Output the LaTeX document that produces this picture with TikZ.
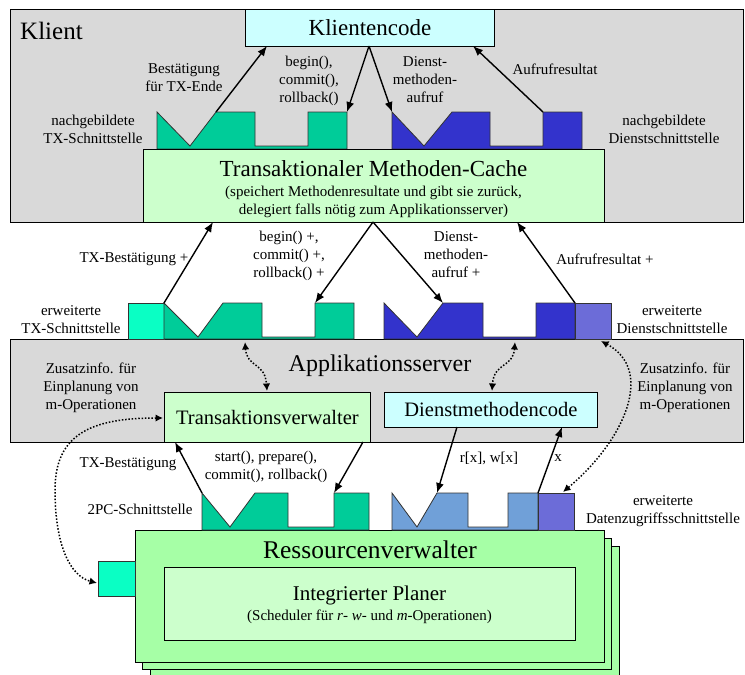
\documentclass[tikz,border=0pt]{standalone}
\usepackage{fontspec}
\setmainfont{Liberation Serif}
\usetikzlibrary{arrows.meta}
\definecolor{panelgray}{RGB}{217,217,217}
\definecolor{codecyan}{RGB}{204,255,255}
\definecolor{palegreen}{RGB}{204,255,204}
\definecolor{rmgreen}{RGB}{166,255,166}
\definecolor{txgreen}{RGB}{0,204,153}
\definecolor{txcyan}{RGB}{10,255,196}
\definecolor{svblue}{RGB}{51,51,204}
\definecolor{svpurple}{RGB}{108,108,216}
\definecolor{datablue}{RGB}{112,160,216}
\begin{document}
\begin{tikzpicture}[x=1pt,y=-1pt,
  box/.style={draw=black,line width=0.9pt,inner sep=0pt,anchor=north west},
  ifline/.style={draw=black!80,line width=0.8pt,line join=miter},
  lbl/.style={font=\fontsize{15}{18}\selectfont,align=center,inner sep=0pt},
  arr/.style={line width=1.4pt,-{Latex[length=10pt,width=8pt]}},
  dotarr/.style={line width=1.5pt,dash pattern=on 1.5pt off 1.8pt,
    {Latex[length=7.5pt,width=7.5pt]}-{Latex[length=7.5pt,width=7.5pt]}}]
\useasboundingbox (0,0) rectangle (745,675);

% ---------- frames ----------
\node[box,fill=panelgray,minimum width=733pt,minimum height=213pt] (klient) at (10,9) {};
\node[box,fill=panelgray,minimum width=733pt,minimum height=103pt] (appserver) at (10,339) {};
\node[font=\fontsize{25}{30}\selectfont,anchor=base west,inner sep=0pt] (klienttitle) at (20,39) {Klient};

% ---------- client side ----------
\node[box,fill=codecyan,minimum width=249pt,minimum height=37pt,
  font=\fontsize{23}{27}\selectfont] (clientcode) at (245,9) {Klientencode};

% emulated TX interface
\draw[ifline,fill=txgreen] (157,149) -- (157,112) -- (190,146) -- (216,112) coordinate (etxA)
  -- (255,112) -- (255,146) -- (308,146) -- (308,112) -- (347,112) coordinate (etxB) -- (347,149) -- cycle;
% emulated service interface
\draw[ifline,fill=svblue] (392,149) -- (392,112) coordinate (esvA) -- (424,146) -- (452,112)
  -- (490,112) -- (490,146) -- (543,146) -- (543,112) coordinate (esvB) -- (582,112) -- (582,149) -- cycle;

% method cache
\node[box,fill=palegreen,minimum width=461pt,minimum height=73pt] (cache) at (143,149) {};
\node[font=\fontsize{23}{27}\selectfont,inner sep=0pt] (cachetitle) at (373.5,169) {Transaktionaler Methoden-Cache};
\node[lbl] (cachetext) at (373.5,202) {(speichert Methodenresultate und gibt sie zurück,\\delegiert falls nötig zum Applikationsserver)};

\coordinate (ccA) at (267,46);
\coordinate (ccB) at (369,46);
\coordinate (ccC) at (473,46);
\draw[arr] (etxA) -- (ccA);
\draw[arr] (ccB) -- (etxB);
\draw[arr] (ccB) -- (esvA);
\draw[arr] (esvB) -- (ccC);

\node[lbl] (l1) at (184,78) {Bestätigung\\für TX-Ende};
\node[lbl] (l2) at (309,81) {begin(),\\commit(),\\rollback()};
\node[lbl] (l3) at (425,80) {Dienst-\\methoden-\\aufruf};
\node[lbl] (l4) at (555,69) {Aufrufresultat};
\node[lbl] (l5) at (93,129) {nachgebildete\\TX-Schnittstelle};
\node[lbl] (l6) at (664,129) {nachgebildete\\Dienstschnittstelle};

% ---------- extended interfaces ----------
\node[box,fill=txcyan,minimum width=36pt,minimum height=36pt,draw=black!80,line width=0.8pt] (xtxsq) at (128,303) {};
\draw[ifline,fill=txgreen] (164,339) -- (164,303) coordinate (xtxA) -- (198,337) -- (223,303)
  -- (262,303) -- (262,337) -- (315,337) -- (315,303) coordinate (xtxB) -- (354,303) -- (354,339) -- cycle;
\draw[ifline,fill=svblue] (384,339) -- (384,303) -- (417,337) -- (443,303) coordinate (xsvA)
  -- (483,303) -- (483,337) -- (536,337) -- (536,303) -- (575,303) coordinate (xsvB) -- (575,339) -- cycle;
\node[box,fill=svpurple,minimum width=36pt,minimum height=36pt,draw=black!80,line width=0.8pt] (xsvsq) at (575,303) {};

\coordinate (cbA) at (213,222);
\coordinate (cbB) at (373,222);
\coordinate (cbC) at (517,222);
\draw[arr] (xtxA) -- (cbA);
\draw[arr] (cbB) -- (xtxB);
\draw[arr] (cbB) -- (xsvA);
\draw[arr] (xsvB) -- (cbC);

\node[lbl] (m1) at (134,259) {TX-Bestätigung +};
\node[lbl] (m2) at (289,256) {begin() +,\\commit() +,\\rollback() +};
\node[lbl] (m3) at (456,255) {Dienst-\\methoden-\\aufruf +};
\node[lbl] (m4) at (605,259) {Aufrufresultat +};
\node[lbl] (m5) at (71,320) {erweiterte\\TX-Schnittstelle};
\node[lbl] (m6) at (672,320) {erweiterte\\Dienstschnittstelle};

% ---------- application server ----------
\node[font=\fontsize{24}{28}\selectfont,inner sep=0pt] (apptitle) at (380,366) {Applikationsserver};
\node[box,fill=palegreen,minimum width=206pt,minimum height=50pt,
  font=\fontsize{20.5}{24}\selectfont] (tm) at (164,392) {Transaktionsverwalter};
\node[box,fill=codecyan,minimum width=213pt,minimum height=35pt,
  font=\fontsize{20.5}{24}\selectfont] (smc) at (384,392) {Dienstmethodencode};
\node[lbl] (z1) at (91,388) {Zusatzinfo. für\\Einplanung von\\m-Operationen};
\node[lbl] (z2) at (685,388) {Zusatzinfo. für\\Einplanung von\\m-Operationen};

% ---------- resource manager ----------
\node[box,fill=rmgreen,minimum width=469pt,minimum height=137pt] (rm3) at (150,546) {};
\node[box,fill=rmgreen,minimum width=469pt,minimum height=131pt] (rm2) at (142,538) {};
\node[box,fill=rmgreen,minimum width=469pt,minimum height=132pt] (rm) at (135,530) {};
\node[box,fill=txcyan,minimum width=37pt,minimum height=35pt,draw=black!80,line width=0.8pt] (rmsq) at (98,561) {};
\node[font=\fontsize{25.5}{30}\selectfont,inner sep=0pt] (rmtitle) at (370,550) {Ressourcenverwalter};
\node[box,fill=palegreen,minimum width=411pt,minimum height=73pt] (planer) at (164,567) {};
\node[font=\fontsize{21}{25}\selectfont,inner sep=0pt] (planertitle) at (369.5,595) {Integrierter Planer};
\node[lbl] (planertext) at (369.5,617) {(Scheduler für \textit{r}- \textit{w}- und \textit{m}-Operationen)};

% 2PC interface and data access interface
\draw[ifline,fill=txgreen] (202,530) -- (202,493) coordinate (pcA) -- (230,527) -- (255,493)
  -- (288,493) -- (288,527) -- (334,527) -- (334,493) coordinate (pcB) -- (369,493) -- (369,530) -- cycle;
\draw[ifline,fill=datablue] (392,530) -- (392,493) -- (417,527) -- (437,493) coordinate (daA)
  -- (468,493) -- (468,527) -- (508,527) -- (508,493) -- (538,493) coordinate (daB) -- (538,530) -- cycle;
\node[box,fill=svpurple,minimum width=36pt,minimum height=37pt,draw=black!80,line width=0.8pt] (dasq) at (538,493) {};

\coordinate (tmA) at (175,442);
\coordinate (tmB) at (363,442);
\coordinate (smA) at (457,427);
\coordinate (smB) at (562,427);
\draw[arr] (pcA) -- (tmA);
\draw[arr] (tmB) -- (pcB);
\draw[arr] (smA) -- (daA);
\draw[arr] (daB) -- (smB);

\node[lbl] (b1) at (128,464) {TX-Bestätigung};
\node[lbl] (b2) at (266,467) {start(), prepare(),\\commit(), rollback()};
\node[lbl] (b3) at (140,509) {2PC-Schnittstelle};
\node[lbl] (b4) at (489,458) {r[x], w[x]};
\node[lbl] (b5) at (558,458) {x};
\node[lbl] (b6) at (663,511) {erweiterte\\Datenzugriffsschnittstelle};

% ---------- dotted information flows ----------
\coordinate (dA1) at (245,342);
\coordinate (dA2) at (267,391);
\coordinate (dB1) at (515,342);
\coordinate (dB2) at (492,391);
\coordinate (dC1) at (601,341);
\coordinate (dC2) at (563,492);
\coordinate (dD1) at (163,418);
\coordinate (dD2) at (97,583);
\draw[dotarr] (dA1) .. controls (247,368) and (265,362) .. (dA2);
\draw[dotarr] (dB1) .. controls (513,368) and (494,362) .. (dB2);
\draw[dotarr] (dC1) .. controls (655,370) and (625,440) .. (dC2);
\draw[dotarr] (dD1) .. controls (90,418) and (55,435) .. (55,490) .. controls (55,545) and (70,576) .. (dD2);
\end{tikzpicture}
\end{document}
